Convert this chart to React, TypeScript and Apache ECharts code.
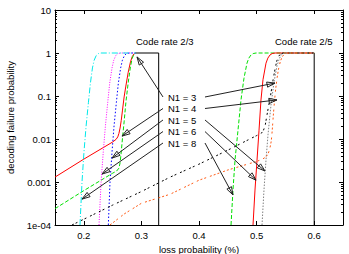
import { useEffect, useRef } from "react";
import * as echarts from "echarts";

type Pt = [number, number];

// axis ranges and tick labels
const X_MIN = 0.15;
const X_MAX = 0.65;
const Y_MIN = 1e-4;
const Y_MAX = 10;
const xTickValues = [0.2, 0.3, 0.4, 0.5, 0.6];
const yTickLabels = ["1e-04", "0.001", "0.01", "0.1", "1", "10"];

// code rate 2/3 curves
const r23n3: Pt[] = [[0.15, 0.0013], [0.2, 0.0034], [0.25, 0.0085], [0.256, 0.0098], [0.259, 0.0112], [0.261, 0.0135], [0.263, 0.018], [0.265, 0.027], [0.267, 0.045], [0.27, 0.095], [0.273, 0.17], [0.277, 0.35], [0.281, 0.62], [0.284, 0.82], [0.287, 0.95], [0.29, 1]];
const r23n4: Pt[] = [[0.15, 0.00024], [0.2, 0.00063], [0.25, 0.0016], [0.257, 0.0018], [0.261, 0.0021], [0.263, 0.0028], [0.265, 0.005], [0.267, 0.01], [0.27, 0.025], [0.273, 0.07], [0.277, 0.2], [0.281, 0.48], [0.284, 0.75], [0.287, 0.93], [0.29, 1]];
const r23n5: Pt[] = [[0.2426, 1e-4], [0.2455, 0.001], [0.249, 0.005], [0.2525, 0.02], [0.2565, 0.07], [0.26, 0.2], [0.264, 0.45], [0.267, 0.68], [0.2705, 0.87], [0.274, 0.97], [0.279, 1], [0.29, 1]];
const r23n6: Pt[] = [[0.2264, 1e-4], [0.23, 0.001], [0.2338, 0.005], [0.2375, 0.02], [0.2415, 0.07], [0.245, 0.2], [0.249, 0.45], [0.252, 0.68], [0.2555, 0.87], [0.259, 0.97], [0.264, 1], [0.29, 1]];
const r23n8: Pt[] = [[0.1934, 1e-4], [0.1969, 0.001], [0.2003, 0.005], [0.204, 0.02], [0.208, 0.07], [0.2115, 0.2], [0.215, 0.45], [0.218, 0.68], [0.2215, 0.87], [0.2255, 0.97], [0.23, 1], [0.29, 1]];
const r23bound: Pt[] = [[0.29, 1], [0.33, 1], [0.33, 1e-4]];

// code rate 2/5 curves
const r25n3: Pt[] = [[0.1795, 1e-4], [0.25, 0.00029], [0.3, 0.0006], [0.35, 0.0013], [0.4, 0.0026], [0.45, 0.0055], [0.5, 0.012], [0.508, 0.0135], [0.512, 0.016], [0.515, 0.021], [0.5175, 0.033], [0.5205, 0.055], [0.5233, 0.085], [0.5265, 0.16], [0.5295, 0.28], [0.532, 0.42], [0.535, 0.65], [0.538, 0.83], [0.5415, 0.95], [0.546, 1], [0.6, 1]];
const r25n4: Pt[] = [[0.2455, 1e-4], [0.27, 0.00018], [0.3, 0.00032], [0.35, 0.00052], [0.4, 0.0011], [0.45, 0.0019], [0.5, 0.003], [0.51, 0.0034], [0.516, 0.0038], [0.52, 0.0045], [0.523, 0.006], [0.5255, 0.009], [0.527, 0.015], [0.529, 0.035], [0.531, 0.075], [0.533, 0.14], [0.5355, 0.26], [0.538, 0.42], [0.541, 0.62], [0.544, 0.8], [0.548, 0.94], [0.553, 1], [0.6, 1]];
const r25n5: Pt[] = [[0.5094, 1e-4], [0.5128, 0.00065], [0.5163, 0.0032], [0.5198, 0.0126], [0.525, 0.062], [0.5302, 0.21], [0.5354, 0.5], [0.5385, 0.68], [0.5415, 0.85], [0.5445, 0.95], [0.549, 1], [0.6, 1]];
const r25n6: Pt[] = [[0.4938, 1e-4], [0.4972, 0.00065], [0.5007, 0.0032], [0.5042, 0.016], [0.5076, 0.081], [0.5111, 0.24], [0.5163, 0.58], [0.5195, 0.76], [0.5233, 0.9], [0.527, 0.97], [0.532, 1], [0.6, 1]];
const r25n8: Pt[] = [[0.4556, 1e-4], [0.459, 0.00065], [0.4625, 0.0032], [0.4677, 0.016], [0.4729, 0.081], [0.4781, 0.26], [0.4833, 0.58], [0.4865, 0.76], [0.4903, 0.9], [0.494, 0.97], [0.499, 1], [0.6, 1]];
const r25bound: Pt[] = [[0.6, 1], [0.6, 1e-4]];

// annotation labels and their arrows
const labelTexts = ["N1 = 3", "N1 = 4", "N1 = 5", "N1 = 6", "N1 = 8"];
const labelY = [97, 108.5, 120, 131.5, 143];
const arrowTailY = [0.0948, 0.0512, 0.0277, 0.0149, 0.00807];
const arrowHeads23: Pt[] = [[0.2924, 0.81], [0.2663, 0.0117], [0.249, 0.0036], [0.2316, 0.00153], [0.1969, 0.0004]];
const arrowHeads25: Pt[] = [[0.5319, 0.2], [0.5354, 0.081], [0.5146, 0.0018], [0.499, 0.0011], [0.459, 0.0005]];
const tailX23 = 0.3375;
const tailX25 = 0.4104;

const FONT = '"Liberation Sans", Arial, Helvetica, sans-serif';
const FS = 9.5;
const INK = "#000";

function curve(name: string, data: Pt[], color: string, dash: number[] | "solid", z: number) {
  return {
    type: "line",
    name,
    data,
    symbol: "none",
    showSymbol: false,
    lineStyle: { color, width: 1, type: dash },
    z,
    silent: true,
    clip: true,
  };
}

function axisCommon() {
  return {
    axisLine: { show: true, onZero: false, lineStyle: { color: INK, width: 1 } },
    splitLine: { show: false },
    minorSplitLine: { show: false },
  };
}

export default function App() {
  const ref = useRef<HTMLDivElement>(null);

  useEffect(() => {
    document.body.style.margin = "0";
    if (!ref.current) return;
    const chart = echarts.init(ref.current, null, { renderer: "svg" });

    const arrowData: number[][] = [];
    arrowHeads23.forEach((h, i) => arrowData.push([tailX23, arrowTailY[i], h[0], h[1]]));
    arrowHeads25.forEach((h, i) => arrowData.push([tailX25, arrowTailY[i], h[0], h[1]]));

    const yLabelFmt = (v: number) => yTickLabels[Math.round(Math.log10(v)) + 4] ?? "";

    const yAxisBase = (position: "left" | "right", labels: boolean) => ({
      type: "log",
      logBase: 10,
      min: Y_MIN,
      max: Y_MAX,
      position,
      ...axisCommon(),
      axisTick: { show: true, inside: true, length: 4, lineStyle: { color: INK, width: 1 } },
      minorTick: { show: true, splitNumber: 9, length: 2, lineStyle: { color: INK, width: 1 } },
      axisLabel: {
        show: labels,
        formatter: yLabelFmt,
        margin: 4,
        fontSize: FS,
        fontFamily: FONT,
        color: INK,
      },
    });

    const xAxisBase = (position: "bottom" | "top", labels: boolean) => ({
      type: "value",
      min: X_MIN,
      max: X_MAX,
      position,
      ...axisCommon(),
      axisTick: {
        show: true,
        inside: true,
        length: 4,
        customValues: xTickValues,
        lineStyle: { color: INK, width: 1 },
      },
      axisLabel: {
        show: labels,
        customValues: xTickValues,
        margin: 5,
        fontSize: FS,
        fontFamily: FONT,
        color: INK,
      },
    });

    chart.setOption({
      animation: false,
      backgroundColor: "#fff",
      grid: { left: 55, right: 6, top: 10, bottom: 29, containLabel: false, outerBoundsMode: "none" },
      xAxis: [
        {
          ...xAxisBase("bottom", true),
          name: "loss probability (%)",
          nameLocation: "middle",
          nameGap: 18,
          nameTextStyle: { fontSize: FS, fontFamily: FONT, color: INK },
        },
        xAxisBase("top", false),
      ],
      yAxis: [
        {
          ...yAxisBase("left", true),
          name: "decoding failure probability",
          nameLocation: "middle",
          nameGap: 38,
          nameTextStyle: { fontSize: FS, fontFamily: FONT, color: INK },
        },
        yAxisBase("right", false),
      ],
      series: [
        curve("bound 2/3", r23bound, "#000", "solid", 2),
        curve("N1 = 3 (2/3)", r23n3, "#ff0000", "solid", 3),
        curve("N1 = 4 (2/3)", r23n4, "#00e000", [4, 2], 3),
        curve("N1 = 5 (2/3)", r23n5, "#0000ff", [1.5, 2], 3),
        curve("N1 = 6 (2/3)", r23n6, "#ff00ff", [1, 1.5], 3),
        curve("N1 = 8 (2/3)", r23n8, "#00e8e8", [6, 2, 1, 2], 3),
        curve("bound 2/5", r25bound, "#000", "solid", 2),
        curve("N1 = 8 (2/5)", r25n8, "#00e000", [4, 2], 3),
        curve("N1 = 6 (2/5)", r25n6, "#ff0000", "solid", 3),
        curve("N1 = 3 (2/5)", r25n3, "#000000", [2, 2, 2, 4], 3),
        curve("N1 = 5 (2/5)", r25n5, "#808080", [1.5, 1.5], 3),
        curve("N1 = 4 (2/5)", r25n4, "#ff5a14", [2, 2, 2, 2, 2, 4], 3),
        {
          type: "custom",
          data: arrowData,
          encode: { x: [0, 2], y: [1, 3] },
          silent: true,
          clip: false,
          z: 10,
          renderItem: (_params: any, api: any) => {
            const p1 = api.coord([api.value(0), api.value(1)]);
            const p2 = api.coord([api.value(2), api.value(3)]);
            const dx = p2[0] - p1[0];
            const dy = p2[1] - p1[1];
            const len = Math.hypot(dx, dy) || 1;
            const ux = dx / len;
            const uy = dy / len;
            const hl = 8;
            const hw = 2.6;
            const bx = p2[0] - ux * hl;
            const by = p2[1] - uy * hl;
            return {
              type: "group",
              children: [
                {
                  type: "line",
                  shape: { x1: p1[0], y1: p1[1], x2: p2[0], y2: p2[1] },
                  style: { stroke: "#222", lineWidth: 1 },
                },
                {
                  type: "polygon",
                  shape: {
                    points: [
                      [p2[0], p2[1]],
                      [bx - uy * hw, by + ux * hw],
                      [bx + uy * hw, by - ux * hw],
                    ],
                  },
                  style: { fill: "none", stroke: "#222", lineWidth: 1 },
                },
              ],
            };
          },
        },
      ],
      graphic: [
        {
          type: "text",
          x: 136,
          y: 41,
          style: { text: "Code rate 2/3", fontSize: FS, fontFamily: FONT, fill: INK, align: "left", verticalAlign: "middle" },
        },
        {
          type: "text",
          x: 275,
          y: 41,
          style: { text: "Code rate 2/5", fontSize: FS, fontFamily: FONT, fill: INK, align: "left", verticalAlign: "middle" },
        },
        ...labelTexts.map((t, i) => ({
          type: "text",
          x: 168,
          y: labelY[i],
          style: { text: t, fontSize: FS, fontFamily: FONT, fill: INK, align: "left", verticalAlign: "middle" },
        })),
      ],
    });

    return () => chart.dispose();
  }, []);

  return <div ref={ref} style={{ width: 349, height: 254, background: "#fff" }} />;
}
